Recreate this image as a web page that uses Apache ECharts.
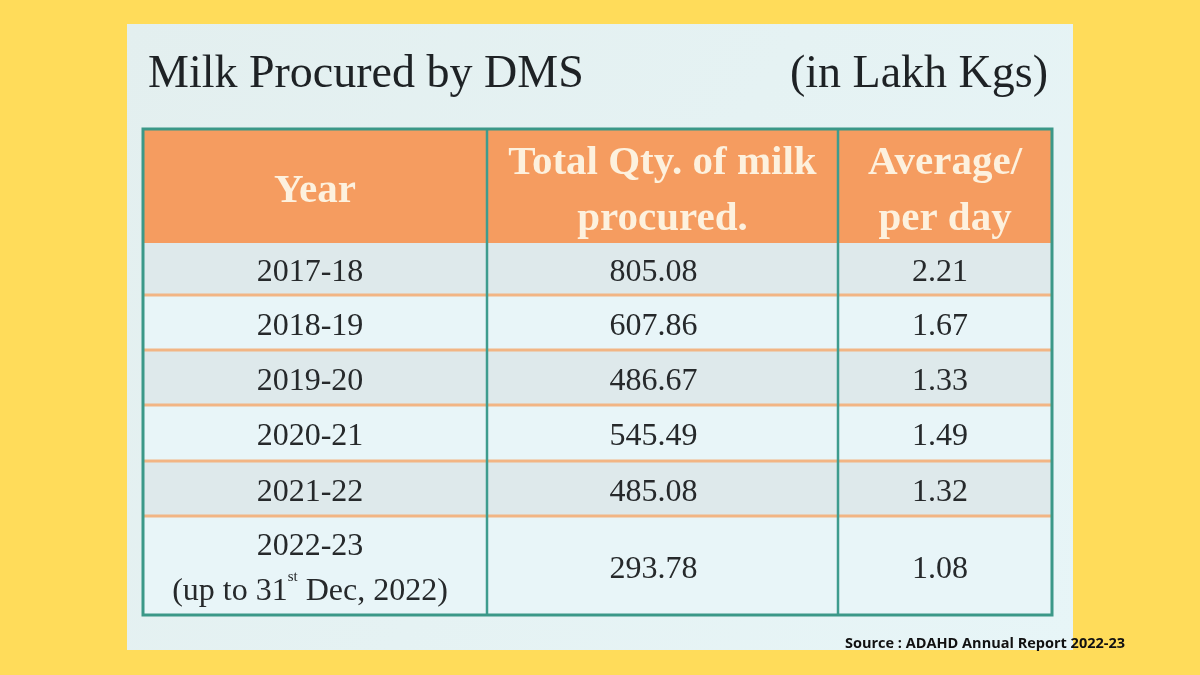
<!DOCTYPE html>
<html>
<head>
<meta charset="utf-8">
<script src="https://cdn.jsdelivr.net/npm/echarts@6/dist/echarts.min.js"></script>
<style>html,body{margin:0;padding:0;background:#FFDC5A;}#c{width:1200px;height:675px;}</style>
</head>
<body>
<div id="c"></div>
<script>
// ---- data ----
const columnHeaders = ['Year', 'Total Qty. of milk\nprocured.', 'Average/\nper day'];
const years = ['2017-18', '2018-19', '2019-20', '2020-21', '2021-22', '2022-23'];
const yearNotes = ['', '', '', '', '', '(up to 31st Dec, 2022)'];
const totalQty = [805.08, 607.86, 486.67, 545.49, 485.08, 293.78];
const avgPerDay = [2.21, 1.67, 1.33, 1.49, 1.32, 1.08];
const titleText = 'Milk Procured by DMS';
const unitText = '(in Lakh Kgs)';
const sourceText = 'Source : ADAHD Annual Report 2022-23';

// ---- layout (table geometry in grid units) ----
const colEdges = [0, 344, 695, 909];
const rowEdges = [0, 114, 166, 221, 276, 332, 387, 486];
const bodyTextShift = [-5, -9, -5];
const SERIF = '"Liberation Serif", "DejaVu Serif", serif';

// build cells
const cells = [];
columnHeaders.forEach((h, c) => cells.push({ value: [c, 0], text: h, header: true }));
years.forEach((y, i) => {
  let t = y;
  if (yearNotes[i]) t += '\n' + yearNotes[i].replace(/(\d)(st|nd|rd|th)\b/, '$1{sup|$2}');
  cells.push({ value: [0, i + 1], text: t });
  cells.push({ value: [1, i + 1], text: totalQty[i].toFixed(2) });
  cells.push({ value: [2, i + 1], text: avgPerDay[i].toFixed(2) });
});

const rowFill = r => r === 0 ? '#F59C60' : (r % 2 === 1 ? '#DEE9EB' : '#E8F5F8');

const chart = echarts.init(document.getElementById('c'));
chart.setOption({
  backgroundColor: '#FFDC5A',
  animation: false,
  title: [
    { text: titleText, left: 143, top: 47, textStyle: { fontFamily: SERIF, fontSize: 46, fontWeight: 'normal', color: '#1E2225' } },
    { text: unitText, right: 147, top: 47, textStyle: { fontFamily: SERIF, fontSize: 46, fontWeight: 'normal', color: '#1E2225' } },
    { text: sourceText, left: 840, top: 631, textStyle: { fontFamily: '"Open Sans", sans-serif', fontSize: 14.5, fontWeight: 'bold', color: '#111111' } }
  ],
  graphic: [{
    type: 'rect', z: -10, silent: true,
    shape: { x: 127, y: 24, width: 946, height: 626 },
    style: { fill: new echarts.graphic.LinearGradient(0, 0, 1, 1, [
      { offset: 0, color: '#E3EFEF' }, { offset: 1, color: '#E7F5F7' }]) }
  }],
  grid: { left: 143, top: 129, width: 909, height: 486 },
  xAxis: { type: 'value', min: 0, max: 909, show: false },
  yAxis: { type: 'value', min: 0, max: 486, inverse: true, show: false },
  series: [
    {
      type: 'custom',
      data: cells.map(c => c.value),
      renderItem: function (params, api) {
        const c = api.value(0), r = api.value(1);
        const cell = cells[params.dataIndex];
        const p0 = api.coord([colEdges[c], rowEdges[r]]);
        const p1 = api.coord([colEdges[c + 1], rowEdges[r + 1]]);
        const cx = (p0[0] + p1[0]) / 2, cy = (p0[1] + p1[1]) / 2;
        const header = r === 0;
        return {
          type: 'group',
          children: [
            { type: 'rect', shape: { x: p0[0], y: p0[1], width: p1[0] - p0[0], height: p1[1] - p0[1] },
              style: { fill: rowFill(r) } },
            { type: 'text', style: {
                text: cell.text, x: header ? cx : cx + bodyTextShift[c], y: header ? cy + 5 : cy + 4,
                align: 'center', verticalAlign: 'middle',
                fontFamily: SERIF, fontSize: header ? 41 : 32, fontWeight: header ? 'bold' : 'normal',
                fill: header ? '#FDF1DE' : '#26292B', lineHeight: header ? 56 : 45,
                rich: { sup: { fontSize: 15, verticalAlign: 'top', fill: '#26292B', fontFamily: SERIF, lineHeight: 30 } }
              } }
          ]
        };
      }
    },
    {
      // row separators (orange)
      type: 'custom',
      data: rowEdges.slice(2, rowEdges.length - 1).map(v => [v]),
      renderItem: function (params, api) {
        const a = api.coord([colEdges[0], api.value(0)]);
        const b = api.coord([colEdges[colEdges.length - 1], api.value(0)]);
        return { type: 'line', shape: { x1: a[0], y1: a[1], x2: b[0], y2: b[1] },
                 style: { stroke: '#F2B584', lineWidth: 3 } };
      }
    },
    {
      // column separators (teal)
      type: 'custom',
      data: colEdges.slice(1, colEdges.length - 1).map(v => [v]),
      renderItem: function (params, api) {
        const a = api.coord([api.value(0), rowEdges[0]]);
        const b = api.coord([api.value(0), rowEdges[rowEdges.length - 1]]);
        return { type: 'line', shape: { x1: a[0], y1: a[1], x2: b[0], y2: b[1] },
                 style: { stroke: '#3E9C8E', lineWidth: 2.5 } };
      }
    },
    {
      // outer border
      type: 'custom',
      data: [[0]],
      renderItem: function (params, api) {
        const a = api.coord([colEdges[0], rowEdges[0]]);
        const b = api.coord([colEdges[colEdges.length - 1], rowEdges[rowEdges.length - 1]]);
        return { type: 'rect', shape: { x: a[0], y: a[1], width: b[0] - a[0], height: b[1] - a[1] },
                 style: { fill: 'none', stroke: '#3B9888', lineWidth: 3 } };
      }
    }
  ]
});
</script>
</body>
</html>
